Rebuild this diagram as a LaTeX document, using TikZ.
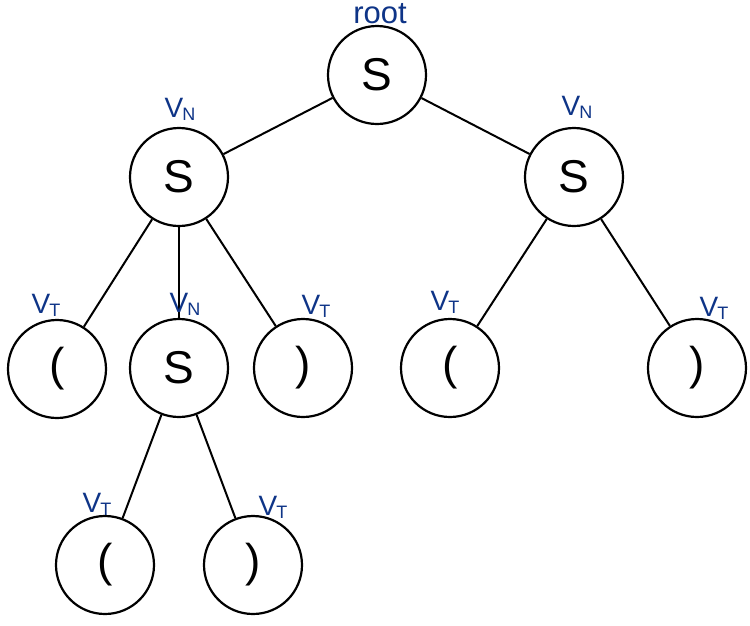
\documentclass[tikz,border=0pt]{standalone}
\usepackage{fontspec}
\setmainfont{Liberation Sans}
\definecolor{pen}{RGB}{14,52,135}
\newcommand{\vsub}[1]{V\kern-1pt\raisebox{-3pt}{\fontsize{18}{18}\selectfont #1}}
\begin{document}
\begin{tikzpicture}[x=1pt,y=-1pt,
  tn/.style={circle,draw=black,line width=2.2pt,minimum size=98pt,inner sep=0pt,font=\fontsize{46}{46}\selectfont},
  lbl/.style={text=pen,font=\fontsize{28}{28}\selectfont,inner sep=0pt},
  edge/.style={line width=2pt}]
\useasboundingbox (0,0) rectangle (750,625);
\node[tn] (r) at (377,75) {S};
\node[tn] (a) at (179,177) {S};
\node[tn] (b) at (574,177) {S};
\node[tn] (a1) at (57,369) {(};
\node[tn] (a2) at (179,368) {S};
\node[tn] (a3) at (303,368) {)};
\node[tn] (b1) at (450,368) {(};
\node[tn] (b2) at (697,368) {)};
\node[tn] (c1) at (105,565) {(};
\node[tn] (c2) at (253,565) {)};
\draw[edge] (r) -- (a);
\draw[edge] (r) -- (b);
\draw[edge] (a) -- (a1);
\draw[edge] (a) -- (a2);
\draw[edge] (a) -- (a3);
\draw[edge] (b) -- (b1);
\draw[edge] (b) -- (b2);
\draw[edge] (a2) -- (c1);
\draw[edge] (a2) -- (c2);
\node[lbl,font=\fontsize{31}{31}\selectfont,anchor=north] (lr) at (380,3) {root};
\node[lbl] (la) at (180,109) {\vsub{N}};
\node[lbl] (lb) at (577,107) {\vsub{N}};
\node[lbl] (la2) at (185,304) {\vsub{N}};
\node[lbl] (la1) at (46,305) {\vsub{T}};
\node[lbl] (la3) at (316,306) {\vsub{T}};
\node[lbl] (lb1) at (445,302) {\vsub{T}};
\node[lbl] (lb2) at (714,308) {\vsub{T}};
\node[lbl] (lc1) at (97,504) {\vsub{T}};
\node[lbl] (lc2) at (273,507) {\vsub{T}};
\end{tikzpicture}
\end{document}
